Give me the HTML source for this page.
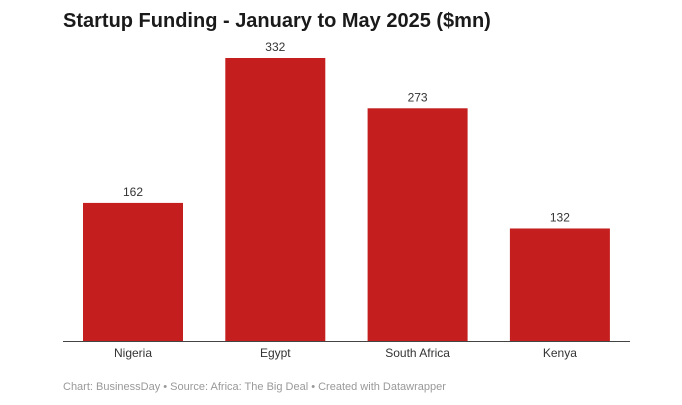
<!DOCTYPE html>
<html><head><meta charset="utf-8"><style>
body{margin:0;background:#fff;width:682px;height:400px;overflow:hidden;font-family:"Liberation Sans",Arial,sans-serif}
</style></head><body>
<svg width="682" height="400" xmlns="http://www.w3.org/2000/svg">
<text x="63" y="27" font-size="20" font-weight="bold" fill="#1a1a1a">Startup Funding - January to May 2025 ($mn)</text>
<g id="bars"></g>
<line x1="63" x2="630" y1="341.5" y2="341.5" stroke="#444" stroke-width="1"/>
<text x="63" y="390" font-size="11" fill="#999">Chart: BusinessDay • Source: Africa: The Big Deal • Created with Datawrapper</text>
</svg>
<script>
const categories=["Nigeria","Egypt","South Africa","Kenya"];
const values=[162,332,273,132];
const valueLabels=["162","332","273","132"];
const baseY=341, topY=58, maxV=332;
const y=v=>baseY-(v/maxV)*(baseY-topY);
const x0=83, step=142.3, bw=100;
const x=i=>x0+i*step;
const g=document.getElementById('bars');
const ns="http://www.w3.org/2000/svg";
categories.forEach((c,i)=>{
  const r=document.createElementNS(ns,'rect');
  
  
  r.setAttribute('x',x(i));r.setAttribute('y',y(values[i]));
  r.setAttribute('width',bw);r.setAttribute('height',baseY-y(values[i]));
  r.setAttribute('fill','#c41e1e');g.appendChild(r);
  const t=document.createElementNS(ns,'text');
  
  
  t.setAttribute('x',x(i)+bw/2);t.setAttribute('y',y(values[i])-7);
  t.setAttribute('text-anchor','middle');t.setAttribute('font-size','12');t.setAttribute('fill','#333');
  t.textContent=valueLabels[i];g.appendChild(t);
  const l=document.createElementNS(ns,'text');
  
  
  l.setAttribute('x',x(i)+bw/2);l.setAttribute('y',357);
  l.setAttribute('text-anchor','middle');l.setAttribute('font-size','12');l.setAttribute('fill','#333');
  l.textContent=c;g.appendChild(l);
});
</script>
</body></html>
